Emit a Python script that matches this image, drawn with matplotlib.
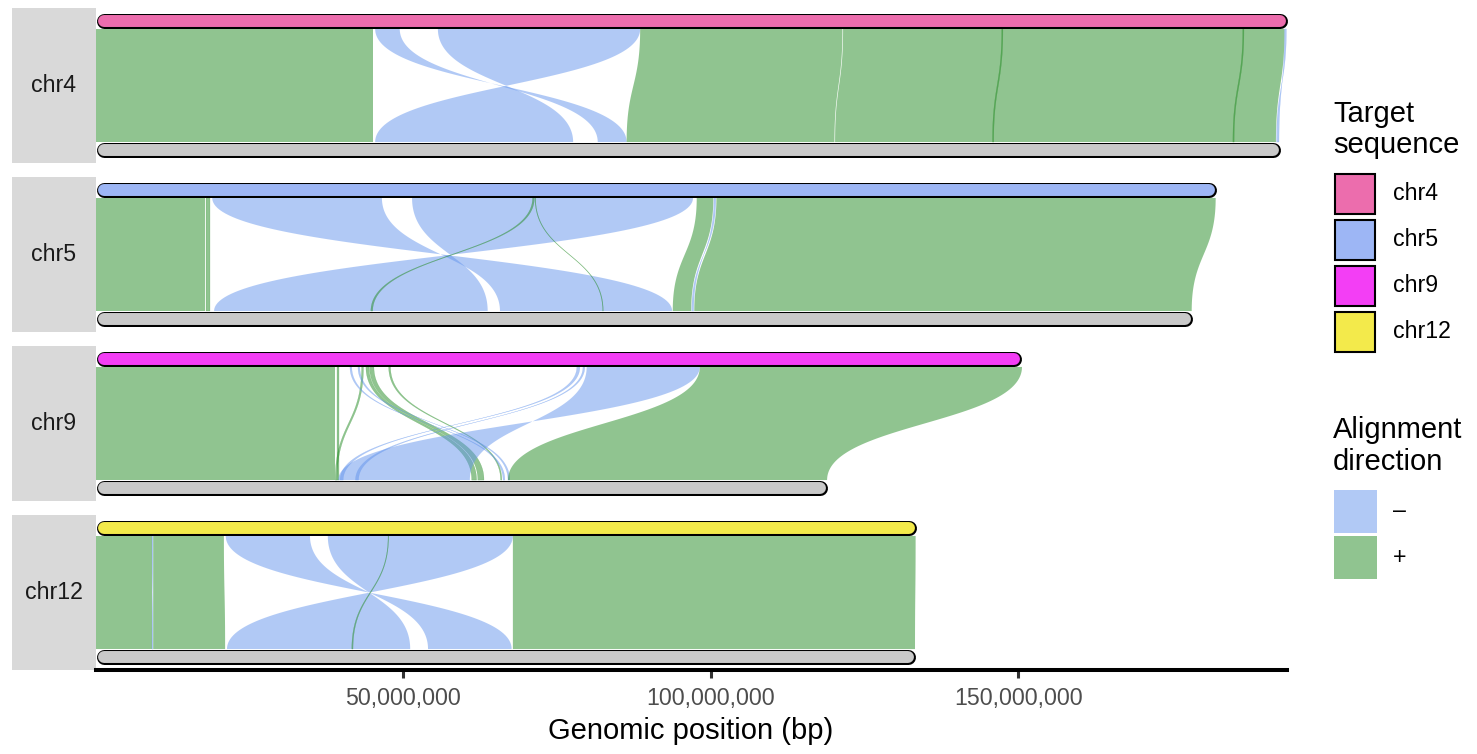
import numpy as np
import matplotlib.pyplot as plt
from matplotlib.patches import Rectangle
from matplotlib.ticker import FuncFormatter

plt.rcParams['font.family'] = ['Liberation Sans', 'DejaVu Sans']

# sequences (lengths in Mb)
chroms = ['chr4', 'chr5', 'chr9', 'chr12']
target_len = [193.7, 182.2, 150.6, 133.4]
query_len = [192.6, 178.3, 118.9, 133.2]
target_colors = ['#EC6DAD', '#9DB6F5', '#F33EF5', '#F3EA4B']
query_color = '#C9C9C9'

# alignments: target start/end, query start/end (Mb), strand
aln_chrom = ['chr4'] * 8 + ['chr5'] * 9 + ['chr9'] * 12 + ['chr12'] * 7
aln_t_start = [0.0, 45.4, 55.6, 88.5, 121.5, 147.3, 186.5, 193.3,
               0.0, 17.9, 18.9, 51.4, 71.0, 71.4, 97.7, 100.9, 100.5,
               0.0, 39.2, 43.2, 43.9, 44.5, 47.6, 41.3, 42.6, 78.2, 79.2, 79.8, 98.2,
               0.0, 9.1, 9.3, 21.1, 37.7, 47.5, 67.8]
aln_t_end = [45.0, 49.4, 88.5, 121.4, 193.3, 147.5, 186.7, 193.6,
             17.7, 18.5, 46.5, 97.1, 71.3, 71.5, 100.4, 182.1, 100.8,
             38.9, 39.5, 43.5, 44.4, 45.2, 47.9, 41.6, 42.9, 78.7, 79.5, 98.2, 150.6,
             9.1, 9.25, 20.8, 34.8, 67.8, 47.6, 133.3]
aln_q_start = [0.0, 81.6, 45.4, 86.3, 120.2, 145.8, 184.9, 192.0,
               0.0, 17.9, 65.7, 19.2, 44.7, 82.4, 93.8, 97.3, 96.9,
               0.0, 39.2, 38.9, 61.1, 62.1, 65.8, 66.2, 67.0, 39.7, 42.2, 39.4, 67.0,
               0.0, 9.1, 9.3, 54.0, 21.3, 41.6, 67.8]
aln_q_end = [45.0, 86.3, 77.6, 120.1, 191.9, 146.0, 185.1, 192.4,
             17.7, 18.5, 93.7, 63.7, 45.0, 82.5, 96.8, 178.2, 97.2,
             38.9, 39.5, 39.2, 61.9, 63.1, 66.0, 66.5, 67.3, 40.2, 42.7, 60.8, 118.9,
             9.1, 9.25, 21.0, 67.6, 51.1, 41.8, 133.2]
aln_strand = ['+', '-', '-', '+', '+', '+', '+', '-',
              '+', '+', '-', '-', '+', '+', '+', '+', '-',
              '+', '+', '+', '+', '+', '+', '-', '-', '-', '-', '-', '+',
              '+', '-', '+', '-', '-', '+', '+']
strand_colors = {'-': 'cornflowerblue', '+': 'forestgreen'}

MB = 1e6
W, H = 1477, 754
fig = plt.figure(figsize=(W / 100, H / 100), dpi=100)

# overlay in pixel coordinates for strips and legend
ov = fig.add_axes([0, 0, 1, 1], zorder=0)
ov.set_xlim(0, W)
ov.set_ylim(H, 0)
ov.axis('off')
ov.patch.set_alpha(0)

left, right = 96, 1287
panel_h, step, top0 = 155, 169, 8
xmax = max(target_len) * MB
ylo, yhi = -0.105, 1.105
px_per_unit = panel_h / (yhi - ylo)
half = 7.5 / px_per_unit          # half bar height in data units
r = 7.5 * xmax / (right - left)  # bar end radius in data units

s = np.linspace(0, 1, 80)


def edge(xt, xb, yt, yb):
    ym = (yt + yb) / 2
    b0, b1, b2, b3 = (1 - s) ** 3, 3 * (1 - s) ** 2 * s, 3 * (1 - s) * s ** 2, s ** 3
    return (b0 + b1) * xt + (b2 + b3) * xb, b0 * yt + (b1 + b2) * ym + b3 * yb


def bar(ax, length, y, color):
    ax.plot([r, length - r], [y, y], color='black', lw=10.8,
            solid_capstyle='round', zorder=5, clip_on=False)
    ax.plot([r, length - r], [y, y], color=color, lw=8.6,
            solid_capstyle='round', zorder=6, clip_on=False)


for i, chrom in enumerate(chroms):
    top = top0 + i * step
    ax = fig.add_axes([left / W, 1 - (top + panel_h) / H,
                       (right - left) / W, panel_h / H], zorder=1)
    ax.set_xlim(0, xmax)
    ax.set_ylim(ylo, yhi)
    ax.patch.set_alpha(0)

    yt, yb = 1 - half, half
    for k in range(len(aln_chrom)):
        if aln_chrom[k] != chrom:
            continue
        t0, t1 = aln_t_start[k] * MB, aln_t_end[k] * MB
        q0, q1 = aln_q_start[k] * MB, aln_q_end[k] * MB
        if aln_strand[k] == '-':
            q0, q1 = q1, q0
        xa, ya = edge(t0, q0, yt, yb)
        xb, yb2 = edge(t1, q1, yt, yb)
        xs = np.concatenate([xa, xb[::-1]])
        ys = np.concatenate([ya, yb2[::-1]])
        thin = (aln_t_end[k] - aln_t_start[k]) < 1.0
        ax.fill(xs, ys, color=strand_colors[aln_strand[k]], alpha=0.5,
                lw=0.2 if thin else 0, zorder=1)

    bar(ax, target_len[i] * MB, 1, target_colors[i])
    bar(ax, query_len[i] * MB, 0, query_color)

    # strip on the left
    ov.add_patch(Rectangle((12, top), left - 12, panel_h, facecolor='#D9D9D9',
                           edgecolor='none'))
    ov.text(54, top + panel_h / 2, chrom, ha='center', va='center',
            fontsize=16.7, color='#1A1A1A')

    ax.set_yticks([])
    if i < len(chroms) - 1:
        ax.set_xticks([])
        for sp in ax.spines.values():
            sp.set_visible(False)
    else:
        for sp in ['top', 'left', 'right']:
            ax.spines[sp].set_visible(False)
        ax.spines['bottom'].set_linewidth(2.9)
        ax.spines['bottom'].set_color('black')
        ax.set_xticks([50e6, 100e6, 150e6])
        ax.xaxis.set_major_formatter(FuncFormatter(lambda v, p: f'{v:,.0f}'))
        ax.tick_params(axis='x', length=5.8, width=2.2, color='#333333',
                       labelsize=16.7, labelcolor='#4D4D4D', pad=6.5)

fig.text(691 / W, 1 - 731 / H, 'Genomic position (bp)', ha='center',
         va='center', fontsize=21)

# legends
ov.text(1333, 122, 'Target', fontsize=21, va='baseline')
ov.text(1333, 153, 'sequence', fontsize=21, va='baseline')
for i, chrom in enumerate(chroms):
    y = 174 + 46 * i
    ov.add_patch(Rectangle((1335, y), 40, 40, facecolor=target_colors[i],
                           edgecolor='black', lw=1.5))
    ov.text(1393, y + 20, chrom, fontsize=16.7, va='center')

ov.text(1333, 438, 'Alignment', fontsize=21, va='baseline')
ov.text(1333, 470, 'direction', fontsize=21, va='baseline')
for j, st in enumerate(['-', '+']):
    y = 490 + 46 * j
    ov.add_patch(Rectangle((1334, y), 43, 43, facecolor=strand_colors[st],
                           alpha=0.5, edgecolor='none'))
    ov.text(1393, y + 21, '–' if st == '-' else '+', fontsize=16.7, va='center')

fig.savefig('out.png', dpi=100)
